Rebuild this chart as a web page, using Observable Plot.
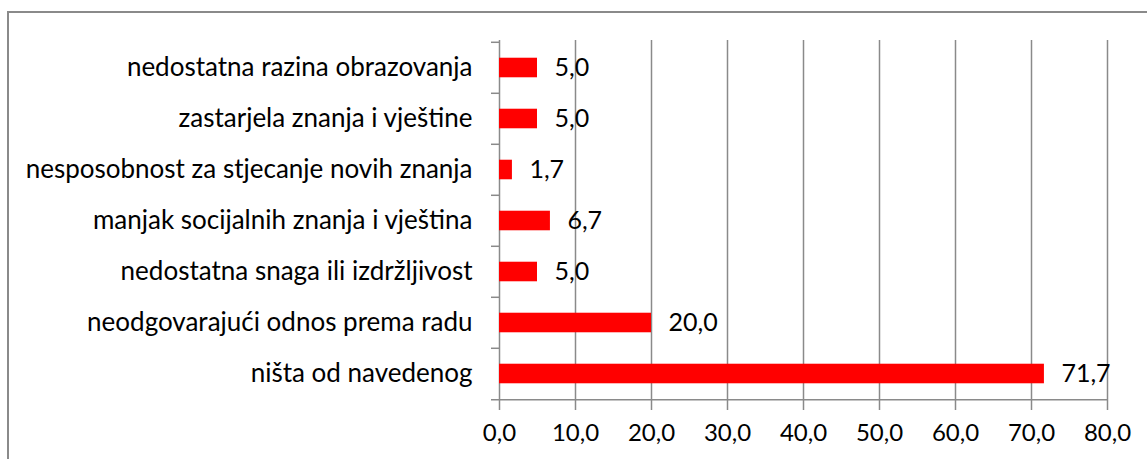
<!DOCTYPE html>
<html>
<head>
<meta charset="utf-8">
<script src="https://cdn.jsdelivr.net/npm/d3@7"></script>
<script src="https://cdn.jsdelivr.net/npm/@observablehq/plot@0.6"></script>
<style>
  html, body { margin: 0; padding: 0; background: #fff; overflow: hidden; }
  #wrap { position: relative; width: 1147px; height: 459px; overflow: hidden; }
  #border { position: absolute; left: 7px; top: 11px; width: 1300px; height: 600px;
            border: 2px solid #8a8a8a; box-sizing: border-box; pointer-events: none; }
  #chart { position: absolute; left: 0; top: 0; }
</style>
</head>
<body>
<div id="wrap"><div id="chart"></div><div id="border"></div></div>
<script>
const categories = [
  "nedostatna razina obrazovanja",
  "zastarjela znanja i vještine",
  "nesposobnost za stjecanje novih znanja",
  "manjak socijalnih znanja i vještina",
  "nedostatna snaga ili izdržljivost",
  "neodgovarajući odnos prema radu",
  "ništa od navedenog"
];
const values = [5.0, 5.0, 1.7, 6.7, 5.0, 20.0, 71.7];
const xTicks = [0, 10, 20, 30, 40, 50, 60, 70, 80];

const data = categories.map((c, i) => ({category: c, value: values[i]}));
const fmt = d => d.toFixed(1).replace(".", ",");

const W = 1147, H = 459;
const mt = 40, mb = 59, ml = 499, mr = 40;
const step = (H - mt - mb) / categories.length;
const barH = 20;
const inset = (step - barH) / 2;
const grid = "#8a8a8a";
const tickLen = 8 / ((W - ml - mr) / 80); // 8px expressed in x units

const chart = Plot.plot({
  width: W,
  height: H,
  marginTop: mt,
  marginBottom: mb,
  marginLeft: ml,
  marginRight: mr,
  style: {fontFamily: "Lato, 'Open Sans', sans-serif", color: "#000", background: "transparent"},
  x: {domain: [0, 80]},
  y: {domain: categories, padding: 0},
  marks: [
    Plot.ruleX(xTicks.slice(1), {stroke: grid, strokeWidth: 1.5}),
    Plot.ruleX([0], {stroke: grid, strokeWidth: 1.5}),
    Plot.ruleY(categories, {y: d => d, dy: -step / 2, x1: -tickLen, x2: 0, stroke: grid, strokeWidth: 1.5}),
    Plot.ruleY(categories.slice(-1), {y: d => d, dy: step / 2, x1: -tickLen, x2: 80, stroke: grid, strokeWidth: 1.5}),
    Plot.barX(data, {y: "category", x: "value", fill: "#ff0000", insetTop: inset, insetBottom: inset}),
    Plot.text(data, {y: "category", x: "value", text: d => fmt(d.value), textAnchor: "start", dx: 17, fontSize: 25, fill: "#000"}),
    Plot.axisX({ticks: xTicks, tickFormat: fmt, tickSize: 10, tickPadding: 13, stroke: grid, strokeWidth: 1.5, fontSize: 24, label: null, fill: "#000"}),
    Plot.axisY({tickSize: 0, tickPadding: 27, fontSize: 26, label: null, fill: "#000"})
  ]
});
document.getElementById("chart").appendChild(chart);
</script>
</body>
</html>
